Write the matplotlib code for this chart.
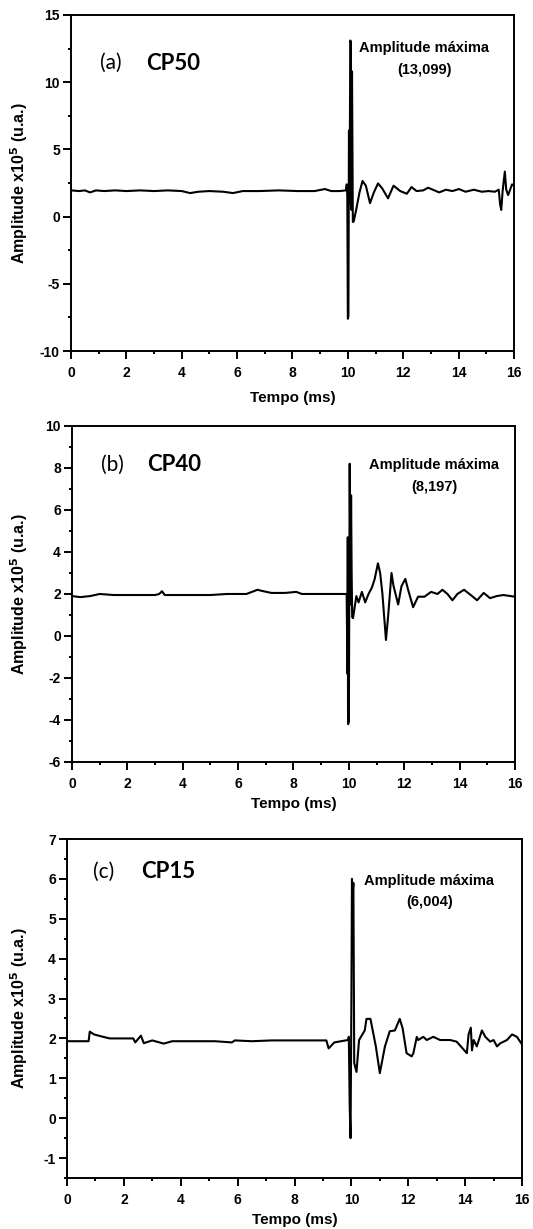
import numpy as np
import matplotlib
matplotlib.use("Agg")
import matplotlib.pyplot as plt

plt.rcParams['font.family'] = ['Liberation Sans', 'DejaVu Sans']
plt.rcParams['axes.unicode_minus'] = False

# ---------- dados ----------
t_a = [0.0, 0.3, 0.5, 0.69, 0.9, 1.2, 1.6, 2.0, 2.5, 3.0, 3.5, 4.0, 4.3, 4.6,
       5.0, 5.5, 5.85, 6.2, 6.8, 7.5, 8.2, 8.8, 9.17, 9.4, 9.7, 9.93, 9.96,
       9.98, 10.0, 10.02, 10.04, 10.06, 10.09, 10.11, 10.13, 10.15, 10.18,
       10.21, 10.3, 10.42, 10.53, 10.65, 10.8, 10.94, 11.09, 11.24, 11.45,
       11.65, 11.89, 12.13, 12.3, 12.48, 12.72, 12.9, 13.07, 13.3, 13.54,
       13.78, 14.01, 14.25, 14.55, 14.84, 15.08, 15.31, 15.45, 15.5, 15.54,
       15.59, 15.67, 15.72, 15.79, 15.93, 16.0]
y_a = [1.95, 1.9, 1.95, 1.8, 1.95, 1.9, 1.95, 1.9, 1.95, 1.9, 1.95, 1.9, 1.75,
       1.85, 1.9, 1.85, 1.75, 1.9, 1.9, 1.95, 1.9, 1.9, 2.05, 1.9, 1.9, 1.95,
       2.4, 1.5, -7.6, -7.4, 6.4, 1.0, 13.1, 12.9, 0.5, 10.8, -0.4,
       -0.37, 0.5, 1.8, 2.65, 2.3, 1.0, 1.8, 2.47, 2.1, 1.36,
       2.3, 1.9, 1.7, 2.2, 1.9, 1.95, 2.15, 2.0, 1.8, 2.0,
       1.9, 2.05, 1.85, 2.0, 1.85, 1.9, 1.85, 2.0, 0.9, 0.5,
       1.9, 3.35, 2.0, 1.6, 2.4, 2.3]

t_b = [0.0, 0.3, 0.65, 1.0, 1.5, 2.0, 2.5, 3.0, 3.15, 3.25, 3.35, 3.6, 4.2,
       5.0, 5.6, 6.3, 6.7, 6.85, 7.2, 7.7, 8.1, 8.3, 8.8, 9.3, 9.92, 9.95,
       9.96, 9.97, 10.0, 10.03, 10.06, 10.08, 10.1, 10.12, 10.15, 10.27,
       10.35, 10.47, 10.59, 10.71, 10.83, 10.93, 11.05, 11.13, 11.21, 11.34,
       11.42, 11.54, 11.61, 11.78, 11.9, 12.04, 12.14, 12.32, 12.5, 12.73,
       12.97, 13.2, 13.38, 13.56, 13.74, 13.92, 14.16, 14.45, 14.63, 14.87,
       15.1, 15.34, 15.58, 16.0]
y_b = [1.9, 1.85, 1.9, 2.0, 1.95, 1.95, 1.95, 1.95, 2.0, 2.13, 1.95, 1.95,
       1.95, 1.95, 2.0, 2.0, 2.2, 2.15, 2.05, 2.05, 2.1, 2.0, 2.0, 2.0, 2.0,
       -1.8, 4.7, -4.2, -4.1, 8.2, 1.5, 6.7, 3.0, 0.9, 0.85, 1.9,
       1.6, 2.1, 1.6, 2.0, 2.3, 2.7, 3.46, 3.0, 2.03, -0.19,
       0.97, 3.0, 2.4, 1.5, 2.37, 2.72, 2.2, 1.37, 1.87, 1.87,
       2.1, 2.0, 2.2, 2.0, 1.7, 2.0, 2.2, 1.9, 1.7, 2.05,
       1.8, 1.9, 1.95, 1.87]

t_c = [0.0, 0.4, 0.76, 0.8, 0.95, 1.16, 1.5, 2.0, 2.33, 2.4, 2.6, 2.7, 3.0,
       3.4, 3.7, 4.2, 4.68, 5.2, 5.8, 5.9, 6.5, 7.2, 8.0, 8.6, 9.12, 9.2,
       9.4, 9.88, 9.91, 9.94, 9.97, 10.0, 10.02, 10.05, 10.07, 10.1, 10.18,
       10.27, 10.47, 10.53, 10.67, 10.86, 11.0, 11.18, 11.35, 11.53, 11.7,
       11.8, 11.94, 12.12, 12.18, 12.3, 12.35, 12.53, 12.65, 12.88, 13.12,
       13.47, 13.7, 14.06, 14.12, 14.2, 14.24, 14.3, 14.41, 14.59, 14.71,
       14.88, 15.0, 15.12, 15.24, 15.47, 15.65, 15.82, 16.0]
y_c = [1.93, 1.93, 1.93, 2.17, 2.1, 2.06, 2.0, 2.0, 2.0, 1.9, 2.07, 1.88,
       1.95, 1.87, 1.93, 1.93, 1.93, 1.93, 1.9, 1.95, 1.93, 1.95, 1.95, 1.95,
       1.95, 1.75, 1.9, 1.96, 2.04, 0.33, -0.5, 2.88, 6.0, 5.64, 5.9, 1.38,
       1.16, 1.96, 2.2, 2.49, 2.49, 1.8, 1.13, 1.8, 2.18, 2.2, 2.49,
       2.26, 1.63, 1.55, 1.63, 2.04, 1.96, 2.04, 1.96, 2.04, 1.96, 1.96,
       1.92, 1.63, 2.1, 2.27, 1.7, 1.96, 1.8, 2.2, 2.04, 1.92, 1.96,
       1.8, 1.88, 1.96, 2.1, 2.04, 1.85]

series = [t_a, t_b, t_c]
values = [y_a, y_b, y_c]
letters = ["(a)", "(b)", "(c)"]
names = ["CP50", "CP40", "CP15"]
max_labels = ["(13,099)", "(8,197)", "(6,004)"]
ylims = [(-10, 15), (-6, 10), (-1.5, 7)]
yticks = [np.arange(-10, 16, 5), np.arange(-6, 11, 2), np.arange(-1, 8, 1)]
yminor = [2.5, 1, 0.5]

# ---------- layout (fração da figura) ----------
rects = [[0.1332, 0.7144, 0.8311, 0.2734],
         [0.1351, 0.3800, 0.8311, 0.2734],
         [0.1257, 0.0415, 0.8537, 0.2758]]
left_px = [71, 72, 67]
xlabel_pad = [7.5, 4, 4]
title_pos = [(0.065, 0.857), (0.065, 0.885), (0.057, 0.903)]
max_pos = [(0.797, 0.868), (0.817, 0.851), (0.796, 0.845)]

fig = plt.figure(figsize=(5.33, 12.29), dpi=100)

for i in range(3):
    ax = fig.add_axes(rects[i])
    ax.plot(series[i], values[i], color='black', lw=1.5)
    ax.set_xlim(0, 16)
    ax.set_ylim(*ylims[i])
    ax.set_xticks(np.arange(0, 17, 2))
    ax.set_xticks(np.arange(1, 16, 2), minor=True)
    ax.set_yticks(yticks[i])
    ax.yaxis.set_minor_locator(matplotlib.ticker.MultipleLocator(yminor[i]))
    ax.tick_params(which='major', direction='out', length=6, width=1.4,
                   labelsize=10, pad=5)
    ax.tick_params(which='minor', direction='out', length=2.5, width=1.4)
    ax.tick_params(axis='y', which='major', pad=2)
    for lab in ax.get_xticklabels() + ax.get_yticklabels():
        lab.set_fontweight('bold')
    for sp in ax.spines.values():
        sp.set_linewidth(1.4)

    ax.set_xlabel("Tempo (ms)", fontsize=11, fontweight='bold',
                  labelpad=xlabel_pad[i])
    ax.set_ylabel(r"Amplitude x10$^{\mathbf{5}}$ (u.a.)", fontsize=11.5,
                  fontweight='bold')
    ax.yaxis.set_label_coords(-(left_px[i] - 30) / (rects[i][2] * 533), 0.5)

    tx, ty = title_pos[i]
    ax.text(tx, ty, letters[i], transform=ax.transAxes, fontsize=15,
            family=['Lato', 'DejaVu Sans'], va='center', ha='left')
    ax.text(tx + 0.105, ty, names[i], transform=ax.transAxes, fontsize=16,
            family=['Lato', 'DejaVu Sans'], fontweight='bold',
            va='center', ha='left')

    mx, my = max_pos[i]
    ax.text(mx, my, "Amplitude máxima\n" + max_labels[i],
            transform=ax.transAxes, fontsize=10.5, fontweight='bold',
            ha='center', va='center', linespacing=1.7)

fig.savefig("out.png", dpi=100)
